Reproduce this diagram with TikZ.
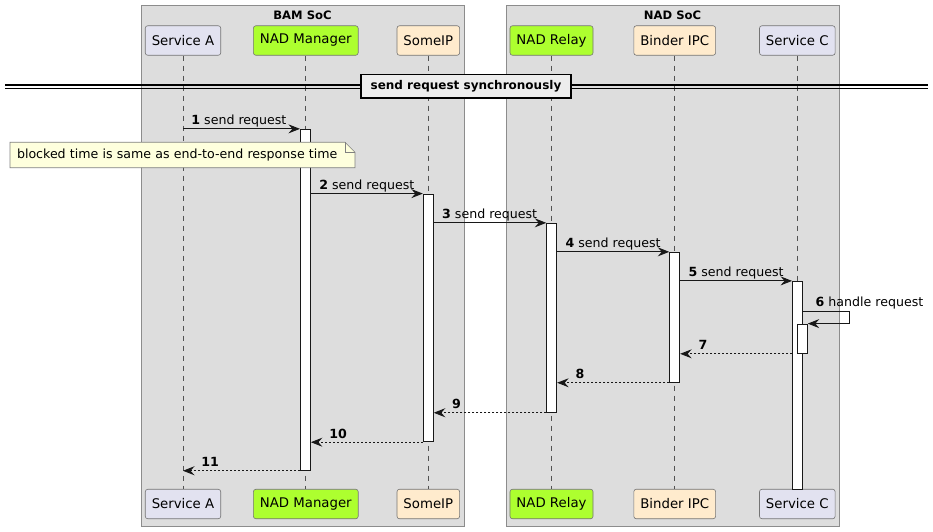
\documentclass[tikz,border=0pt]{standalone}
\usepackage{fontspec}
\setmainfont{DejaVu Sans}
\usetikzlibrary{arrows.meta, positioning, calc}

\definecolor{soc_grey}{HTML}{DDDDDD}
\definecolor{soc_line}{HTML}{8C8C8C}
\definecolor{part_blue}{HTML}{E2E2F0}
\definecolor{part_green}{HTML}{ADFF2F}
\definecolor{part_peach}{HTML}{FFEBCD}
\definecolor{note_yellow}{HTML}{FEFFDD}
\definecolor{ink}{HTML}{181818}

\begin{document}
\begin{tikzpicture}[x=1pt, y=-1pt,
		participant/.style={draw=ink!60, line width=0.6pt, rounded corners=2.5pt, minimum height=29.5pt, inner xsep=6.5pt, inner ysep=0pt, font=\fontsize{13.3}{16}\selectfont},
		soc_box/.style={fill=soc_grey, draw=soc_line, line width=0.8pt},
		soc_title/.style={font=\fontsize{11.6}{14}\selectfont\bfseries, inner sep=0pt},
		lifeline/.style={draw=ink!75, line width=0.7pt, dash pattern=on 5pt off 5pt},
		act/.style={draw=ink, fill=white, line width=0.9pt, minimum width=10pt, inner sep=0pt},
		msg/.style={draw=ink, line width=0.9pt, -{Stealth[length=11.5pt, width=9pt, inset=4pt]}},
		reply/.style={msg, dash pattern=on 2pt off 2pt},
		lbl/.style={font=\fontsize{12.6}{15}\selectfont, inner sep=0pt, anchor=base west},
		divider_box/.style={draw=black, fill=black!7, line width=1.6pt, minimum width=210pt, minimum height=23.5pt, font=\fontsize{12}{14}\selectfont\bfseries},
		note_line/.style={draw=ink!55, line width=0.6pt},
		note_text/.style={text width=331pt, align=left, inner xsep=7pt, inner ysep=0pt, font=\fontsize{12.6}{15}\selectfont}
		]
		\useasboundingbox[fill=white] (0,0) rectangle (933,531);
		
		% SoC groups
		\draw[soc_box] (141,5.5) rectangle (464,526);
		\draw[soc_box] (506,5.5) rectangle (839,526);
		\node[soc_title] (bam_title) at (302.5,15) {BAM SoC};
		\node[soc_title] (nad_title) at (672.5,15) {NAD SoC};
		
		% Participants
		\node[participant, fill=part_blue] (svc_a) at (183,40.5) {Service A};
		\node[participant, fill=part_green] (nad_mgr) at (305.8,40.5) {NAD Manager};
		\node[participant, fill=part_peach] (some_ip) at (428.3,40.5) {SomeIP};
		\node[participant, fill=part_green] (nad_relay) at (551.5,40.5) {NAD Relay};
		\node[participant, fill=part_peach] (binder_ipc) at (674.7,40.5) {Binder IPC};
		\node[participant, fill=part_blue] (svc_c) at (797.3,40.5) {Service C};
		
		\node[participant, fill=part_blue] (svc_a_b) at (183,504) {Service A};
		\node[participant, fill=part_green] (nad_mgr_b) at (305.8,504) {NAD Manager};
		\node[participant, fill=part_peach] (some_ip_b) at (428.3,504) {SomeIP};
		\node[participant, fill=part_green] (nad_relay_b) at (551.5,504) {NAD Relay};
		\node[participant, fill=part_peach] (binder_ipc_b) at (674.7,504) {Binder IPC};
		\node[participant, fill=part_blue] (svc_c_b) at (797.3,504) {Service C};
		
		\foreach \p in {svc_a, nad_mgr, some_ip, nad_relay, binder_ipc, svc_c}
			\draw[lifeline] (\p) -- (\p_b);
		
		% Divider
		\draw[draw=black, line width=1.2pt] (5,85) -- (928,85) (5,88.6) -- (928,88.6);
		\node[divider_box] (sync) at (466,86.3) {send request synchronously};
		
		% Activations
		\node[act, minimum height=341pt] (mgr_act) at (305.4,299.8) {};
		\node[act, minimum height=247.7pt] (ip_act) at (428.3,317.9) {};
		\node[act, minimum height=189pt] (relay_act) at (551.7,317.8) {};
		\node[act, minimum height=130pt] (binder_act) at (674.7,317.3) {};
		\node[act, minimum height=207.7pt] (svc_c_act) at (797.5,385.2) {};
		\node[act, minimum height=29.3pt] (nest_act) at (802.3,338.7) {};
		
		% Note
		\draw[note_line, fill=note_yellow] (10,142.2) -- (345,142.2) -- (355,152.2) -- (355,167.7) -- (10,167.7) -- cycle;
		\draw[note_line] (345,142.2) |- (355,152.2);
		\node[note_text] (note) at (182.5,155) {blocked time is same as end-to-end response time};
		
		% Requests
		\draw[msg] (svc_a |- mgr_act.north) -- (mgr_act.north west) node[lbl, pos=0, xshift=8pt, yshift=4pt] {\textbf{1} send request};
		\draw[msg] (mgr_act.east |- ip_act.north) -- (ip_act.north west) node[lbl, pos=0, xshift=8pt, yshift=4pt] {\textbf{2} send request};
		\draw[msg] (ip_act.east |- relay_act.north) -- (relay_act.north west) node[lbl, pos=0, xshift=8pt, yshift=4pt] {\textbf{3} send request};
		\draw[msg] (relay_act.east |- binder_act.north) -- (binder_act.north west) node[lbl, pos=0, xshift=8pt, yshift=4pt] {\textbf{4} send request};
		\draw[msg] (binder_act.east |- svc_c_act.north) -- (svc_c_act.north west) node[lbl, pos=0, xshift=8pt, yshift=4pt] {\textbf{5} send request};
		
		\coordinate (self_top) at (802.5,311);
		\draw[msg] (self_top) -- ++(47,0) |- (nest_act.north east);
		\node[lbl] (self_lbl) at ([xshift=13pt, yshift=4.5pt]self_top) {\textbf{6} handle request};
		
		% Replies
		\draw[reply] (svc_c_act.west |- nest_act.south) -- (binder_act.east |- nest_act.south) node[lbl, pos=1, xshift=18pt, yshift=4pt] {\textbf{7}};
		\draw[reply] (binder_act.south west) -- (relay_act.east |- binder_act.south) node[lbl, pos=1, xshift=18pt, yshift=4pt] {\textbf{8}};
		\draw[reply] (relay_act.south west) -- (ip_act.east |- relay_act.south) node[lbl, pos=1, xshift=18pt, yshift=4pt] {\textbf{9}};
		\draw[reply] (ip_act.south west) -- (mgr_act.east |- ip_act.south) node[lbl, pos=1, xshift=18pt, yshift=4pt] {\textbf{10}};
		\draw[reply] (mgr_act.south west) -- (svc_a |- mgr_act.south) node[lbl, pos=1, xshift=18pt, yshift=4pt] {\textbf{11}};
	\end{tikzpicture}
\end{document}
